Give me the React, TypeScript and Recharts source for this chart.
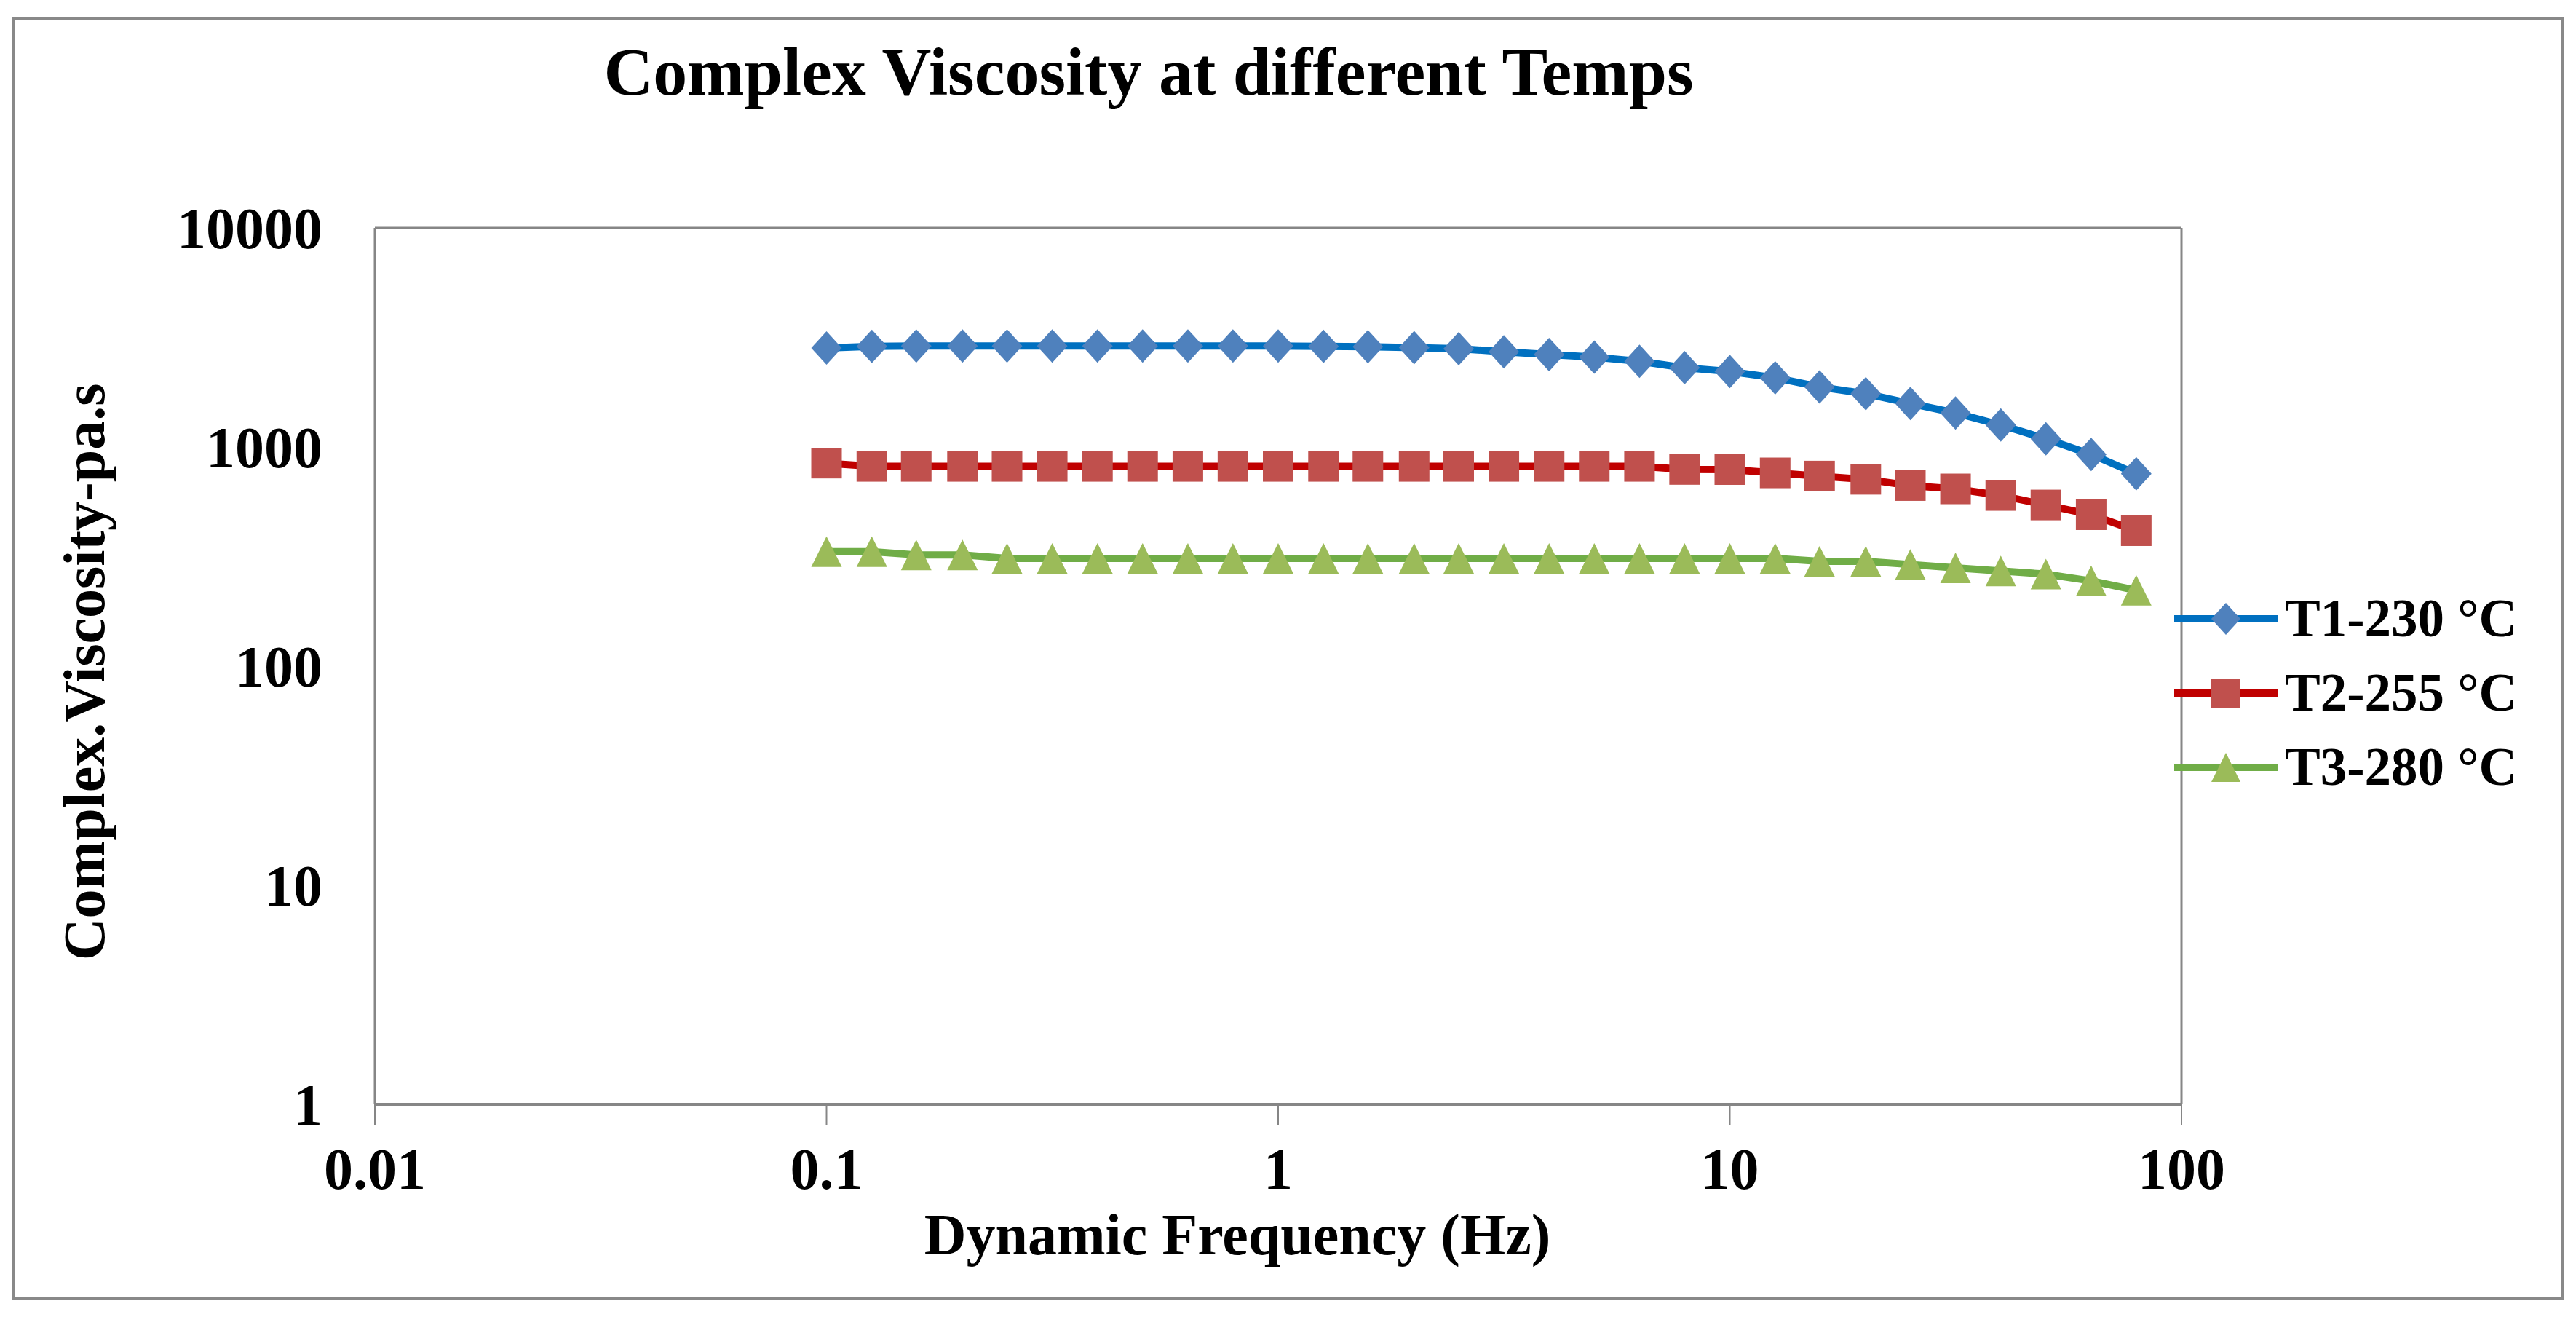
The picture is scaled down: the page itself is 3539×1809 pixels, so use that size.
import { LineChart, Line, XAxis, YAxis, ReferenceLine, Legend } from 'recharts'

// Dynamic frequency sweep (Hz), 10 points per decade
const frequencies = [
  0.1, 0.126, 0.158, 0.2, 0.251, 0.316, 0.398, 0.501, 0.631, 0.794,
  1, 1.26, 1.58, 2, 2.51, 3.16, 3.98, 5.01, 6.31, 7.94,
  10, 12.6, 15.8, 20, 25.1, 31.6, 39.8, 50.1, 63.1, 79.4,
]

// complex viscosity, Pa.s
const t1Viscosity = [
  2830, 2880, 2890, 2890, 2890, 2890, 2890, 2890, 2890, 2890,
  2890, 2880, 2870, 2840, 2810, 2720, 2640, 2570, 2460, 2300,
  2210, 2070, 1880, 1750, 1580, 1430, 1260, 1090, 925, 755,
]
const t2Viscosity = [
  844, 816, 816, 816, 816, 816, 816, 816, 816, 816,
  816, 816, 816, 816, 816, 816, 816, 816, 816, 790,
  789, 762, 737, 712, 667, 644, 601, 544, 491, 415,
]
const t3Viscosity = [
  333, 333, 322, 322, 310, 310, 310, 310, 310, 310,
  310, 310, 310, 310, 310, 310, 310, 310, 310, 310,
  310, 310, 301, 301, 291, 281, 272, 263, 245, 222,
]

const seriesNames = ['T1-230 °C', 'T2-255 °C', 'T3-280 °C']
const xTicks = [0.01, 0.1, 1, 10, 100]
const yTicks = [1, 10, 100, 1000, 10000]

const data = frequencies.map((freq, i) => ({
  freq,
  t1: t1Viscosity[i],
  t2: t2Viscosity[i],
  t3: t3Viscosity[i],
}))

const FONT = '"Liberation Serif", "Times New Roman", serif'
const AXIS_GREY = '#868686'

type Shape = 'diamond' | 'square' | 'triangle'

const styles: { key: string; line: string; marker: string; shape: Shape }[] = [
  { key: 't1', line: '#0070C0', marker: '#4F81BD', shape: 'diamond' },
  { key: 't2', line: '#C00000', marker: '#C0504D', shape: 'square' },
  { key: 't3', line: '#70AD47', marker: '#9BBB59', shape: 'triangle' },
]

function Marker({ shape, cx, cy, r, fill }: { shape: Shape; cx: number; cy: number; r: number; fill: string }) {
  if (shape === 'diamond') {
    return <path d={`M${cx},${cy - r - 2}L${cx + r},${cy}L${cx},${cy + r + 2}L${cx - r},${cy}Z`} fill={fill} />
  }
  if (shape === 'square') {
    return <rect x={cx - r} y={cy - r} width={r * 2} height={r * 2} fill={fill} />
  }
  return <path d={`M${cx},${cy - r}L${cx + r},${cy + r}L${cx - r},${cy + r}Z`} fill={fill} />
}

function renderLegend() {
  return (
    <div style={{ fontFamily: FONT, fontWeight: 'bold', fontSize: 73, color: '#000' }}>
      {styles.map((s, i) => (
        <div key={s.key} style={{ display: 'flex', alignItems: 'center', height: 102 }}>
          <svg width={143} height={102}>
            <line x1={0} x2={143} y1={51} y2={51} stroke={s.line} strokeWidth={10} />
            <Marker shape={s.shape} cx={71} cy={51} r={20} fill={s.marker} />
          </svg>
          <span style={{ marginLeft: 9, lineHeight: '102px', whiteSpace: 'nowrap' }}>{seriesNames[i]}</span>
        </div>
      ))}
    </div>
  )
}

export default function App() {
  const tickStyle = { fontSize: 80, fontWeight: 'bold', fill: '#000', fontFamily: FONT }

  return (
    <div style={{ position: 'absolute', left: 0, top: 0, width: 3539, height: 1809, background: '#fff' }}>
      <LineChart
        width={3539}
        height={1809}
        data={data}
        margin={{ top: 313, right: 542, left: 215, bottom: 142 }}
      >
        <XAxis
          dataKey="freq"
          type="number"
          scale="log"
          domain={[0.01, 100]}
          ticks={xTicks}
          interval={0}
          allowDataOverflow
          height={150}
          tickSize={28}
          tickMargin={31}
          tick={tickStyle}
          axisLine={{ stroke: AXIS_GREY, strokeWidth: 4 }}
          tickLine={{ stroke: AXIS_GREY, strokeWidth: 2 }}
        />
        <YAxis
          type="number"
          scale="log"
          domain={[1, 10000]}
          ticks={yTicks}
          interval={0}
          allowDataOverflow
          width={300}
          tickSize={0}
          tickMargin={72}
          tickLine={false}
          tick={tickStyle}
          axisLine={{ stroke: AXIS_GREY, strokeWidth: 3 }}
        />
        {/* plot area frame: top and right edges */}
        <ReferenceLine y={10000} stroke={AXIS_GREY} strokeWidth={3} />
        <ReferenceLine x={100} stroke={AXIS_GREY} strokeWidth={3} />
        {styles.map((s, i) => (
          <Line
            key={s.key}
            type="linear"
            dataKey={s.key}
            name={seriesNames[i]}
            stroke={s.line}
            strokeWidth={10}
            strokeLinejoin="round"
            activeDot={false}
            isAnimationActive={false}
            dot={(p: any) => (
              <Marker key={`${s.key}-${p.index}`} shape={s.shape} cx={p.cx} cy={p.cy} r={21} fill={s.marker} />
            )}
          />
        ))}
        <Legend
          layout="vertical"
          align="center"
          verticalAlign="middle"
          content={renderLegend}
          wrapperStyle={{ left: 2987, top: 799, width: 520, height: 306 }}
        />
      </LineChart>

      <svg
        width={3539}
        height={1809}
        style={{ position: 'absolute', left: 0, top: 0, pointerEvents: 'none' }}
        fontFamily={FONT}
        fontWeight="bold"
      >
        <rect x={18} y={25} width={3503} height={1758} fill="none" stroke="#898989" strokeWidth={4} />
        <text x={1578} y={130} textAnchor="middle" fontSize={94}>
          Complex Viscosity at different Temps
        </text>
        <text x={1700} y={1723} textAnchor="middle" fontSize={80}>
          Dynamic Frequency (Hz)
        </text>
        <text x={143} y={923} textAnchor="middle" fontSize={80} transform="rotate(-90, 143, 923)">
          Complex.Viscosity-pa.s
        </text>
      </svg>
    </div>
  )
}
